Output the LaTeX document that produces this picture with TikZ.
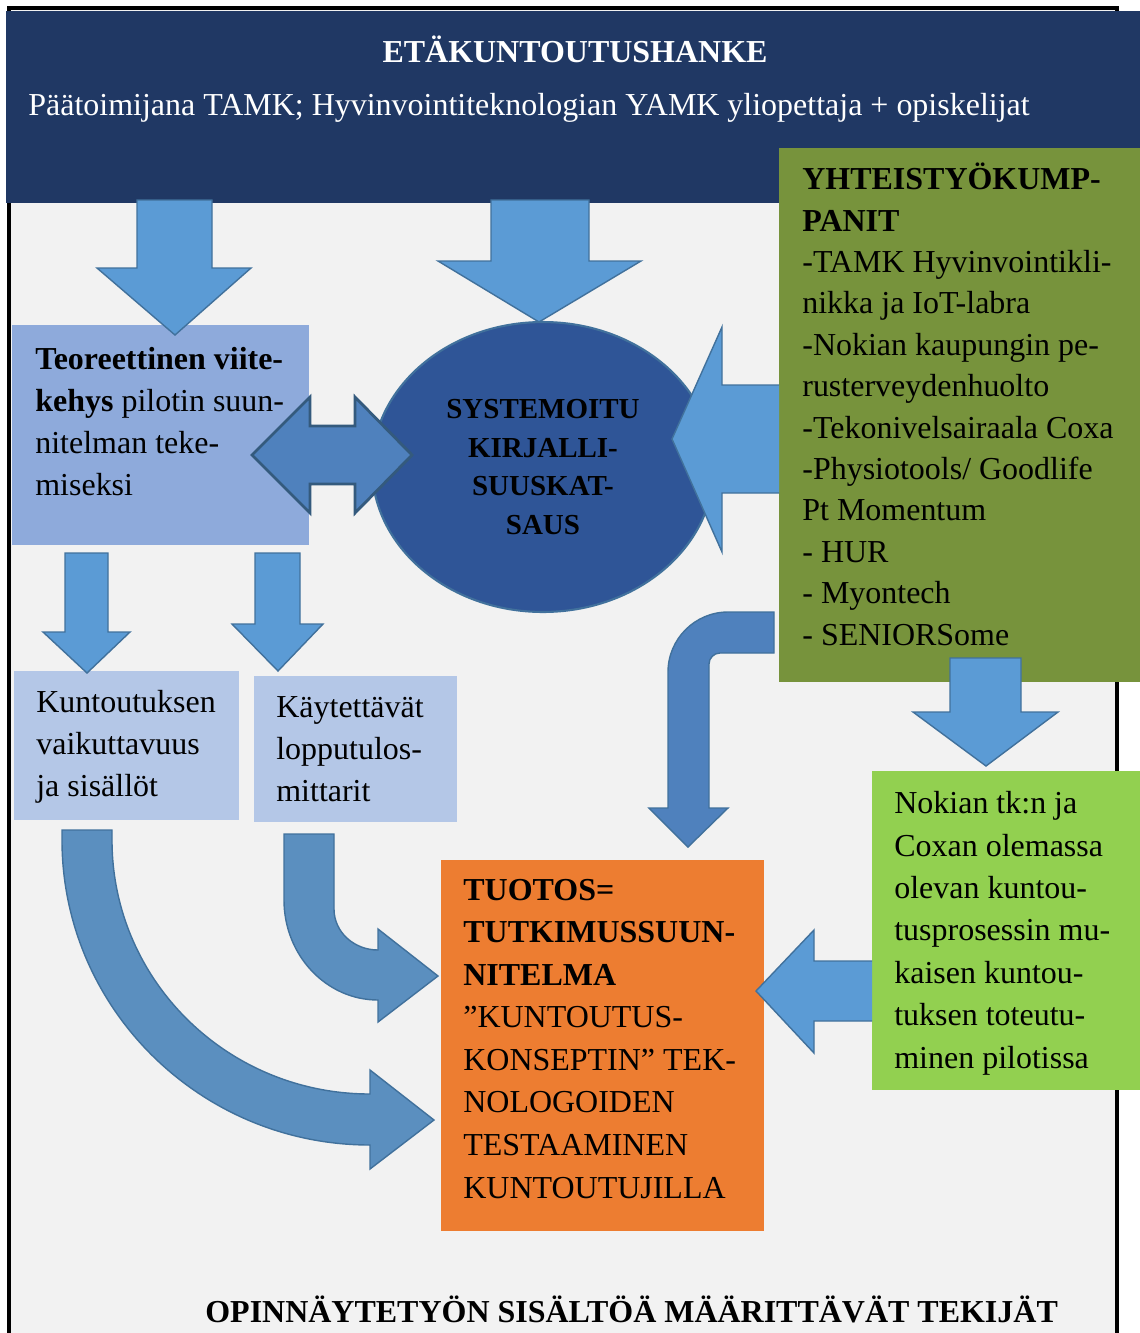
\documentclass[tikz,border=0pt]{standalone}
\usepackage{fontspec}
\setmainfont{Liberation Serif}
\usetikzlibrary{shapes.geometric}

\definecolor{navy}{HTML}{203864}
\definecolor{paper}{HTML}{F2F2F2}
\definecolor{olive}{HTML}{77933C}
\definecolor{lime}{HTML}{92D050}
\definecolor{sky}{HTML}{8EAADB}
\definecolor{pale}{HTML}{B4C7E7}
\definecolor{deepblue}{HTML}{2F5597}
\definecolor{arrowblue}{HTML}{5B9BD5}
\definecolor{midblue}{HTML}{4F81BD}
\definecolor{curveblue}{HTML}{5B8FBF}
\definecolor{edgeblue}{HTML}{41719C}
\definecolor{tangerine}{HTML}{ED7D31}

\tikzset{
    txt/.style={anchor=base west, inner sep=0pt, align=left, font=\fontsize{18.2}{23.8}\selectfont},
    blockarrow/.style={fill=arrowblue, draw=edgeblue, line width=0.8pt, line join=miter},
}

\begin{document}
\begin{tikzpicture}[x=0.02cm, y=-0.02cm]
    \useasboundingbox (0,0) rectangle (1140,1333);

    % frame
    \fill[paper] (9,8) rectangle (1117,1345);
    \draw[line width=1.8pt] (9,1345) -- (9,8) -- (1117,8) -- (1117,1345);

    % banner
    \fill[navy] (6,11) rectangle (1140,203);
    \node (title) [anchor=base, inner sep=0pt, text=white, font=\fontsize{18.2}{23.8}\selectfont\bfseries] at (575,62) {ETÄKUNTOUTUSHANKE};
    \node (lead) [txt, text=white] at (28,115) {Päätoimijana TAMK; Hyvinvointiteknologian YAMK yliopettaja + opiskelijat};

    % boxes
    \fill[olive] (779,148) rectangle (1140,682);
    \fill[sky] (12,325) rectangle (309,545);
    \fill[pale] (14,671) rectangle (239,820);
    \fill[pale] (254,676) rectangle (457,822);
    \fill[tangerine] (441,860) rectangle (764,1231);
    \fill[lime] (872,771) rectangle (1140,1090);

    % literature review
    \node (review) [ellipse, fill=deepblue, draw=edgeblue, line width=1.2pt, minimum width=6.84cm, minimum height=5.8cm, inner sep=0pt,
        align=center, font=\fontsize{16.5}{22}\selectfont\bfseries] at (543,467) {SYSTEMOITU\\KIRJALLI-\\SUUSKAT-\\SAUS};

    % texts (anchored at the baseline of the last line)
    \node (partners) [txt, font=\fontsize{18.2}{23.56}\selectfont] at (802,645) {\textbf{YHTEISTYÖKUMP-}\\\textbf{PANIT}\\-TAMK Hyvinvointikli-\\nikka ja IoT-labra\\-Nokian kaupungin pe-\\rusterveydenhuolto\\-Tekonivelsairaala Coxa\\-Physiotools/ Goodlife\\Pt Momentum\\- HUR\\- Myontech\\- SENIORSome};
    \node (theory) [txt] at (35,495) {\textbf{Teoreettinen viite-}\\\textbf{kehys} pilotin suun-\\nitelman teke-\\miseksi};
    \node (effect) [txt] at (36,796) {Kuntoutuksen\\vaikuttavuus\\ja sisällöt};
    \node (meters) [txt] at (276,801) {Käytettävät\\lopputulos-\\mittarit};
    \node (output) [txt, font=\fontsize{18.2}{24.2}\selectfont] at (463,1198) {\textbf{TUOTOS=}\\\textbf{TUTKIMUSSUUN-}\\\textbf{NITELMA}\\”KUNTOUTUS-\\KONSEPTIN” TEK-\\NOLOGOIDEN\\TESTAAMINEN\\KUNTOUTUJILLA};
    \node (pilot) [txt, font=\fontsize{18.2}{24.1}\selectfont] at (894,1068) {Nokian tk:n ja\\Coxan olemassa\\olevan kuntou-\\tusprosessin mu-\\kaisen kuntou-\\tuksen toteutu-\\minen pilotissa};
    \node (footer) [txt, font=\fontsize{18.2}{23.8}\selectfont\bfseries] at (205,1322) {OPINNÄYTETYÖN SISÄLTÖÄ MÄÄRITTÄVÄT TEKIJÄT};

    % arrows from the banner
    \draw[blockarrow] (137,200) -- (212,200) -- (212,268) -- (251,268) -- (175,335) -- (97,268) -- (137,268) -- cycle;
    \draw[blockarrow] (491,200) -- (589,200) -- (589,261) -- (641,261) -- (539,322) -- (438,261) -- (491,261) -- cycle;

    % arrow from partners into the review
    \draw[blockarrow] (779,385) -- (722,385) -- (722,327) -- (672,439) -- (722,552) -- (722,493) -- (779,493);

    % two-way arrow
    \draw[blockarrow, fill=midblue, draw=edgeblue!80!black, line width=1.6pt] (252,455) -- (310,397) -- (310,426) -- (355,426) -- (355,397) -- (412,455)
        -- (355,513) -- (355,484) -- (310,484) -- (310,513) -- cycle;

    % arrows from the theory box
    \draw[blockarrow] (65,553) -- (108,553) -- (108,632) -- (130,632) -- (87,673) -- (43,632) -- (65,632) -- cycle;
    \draw[blockarrow] (255,553) -- (300,553) -- (300,624) -- (323,624) -- (278,671) -- (232,624) -- (255,624) -- cycle;

    % curved arrows into the output
    \draw[blockarrow, fill=curveblue] (62,830) -- (112,830) -- (112,840) .. controls (112,980) and (227,1094) .. (370,1094)
        -- (370,1070) -- (434,1120) -- (370,1169) -- (370,1145) .. controls (200,1145) and (62,1008) .. (62,840) -- cycle;
    \draw[blockarrow, fill=curveblue] (284,834) -- (334,834) -- (334,909) .. controls (334,932) and (354,950) .. (378,950)
        -- (378,929) -- (438,976) -- (378,1022) -- (378,1000) .. controls (326,1000) and (284,955) .. (284,900) -- cycle;

    % elbow arrow from partners
    \draw[blockarrow, fill=midblue] (774,612) -- (728,612) .. controls (695,612) and (668,639) .. (668,672) -- (668,808) -- (649,808)
        -- (688,847) -- (728,808) -- (709,808) -- (709,664) .. controls (709,658) and (714,653) .. (720,653) -- (774,653) -- cycle;

    % arrow to the pilot
    \draw[blockarrow] (950,658) -- (1021,658) -- (1021,712) -- (1058,712) -- (986,766) -- (913,712) -- (950,712) -- cycle;

    % arrow from the pilot
    \draw[blockarrow] (872,961) -- (814,961) -- (814,930) -- (756,991) -- (814,1053) -- (814,1021) -- (872,1021);
\end{tikzpicture}
\end{document}
